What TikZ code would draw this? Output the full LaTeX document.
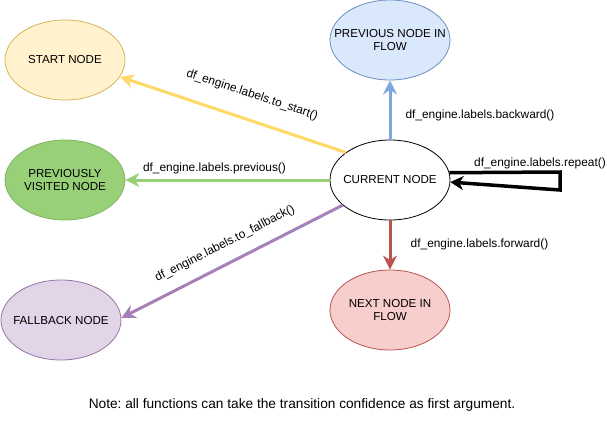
\documentclass[tikz,border=0pt]{standalone}
\usepackage{fontspec}
\setmainfont{Liberation Sans}
\usetikzlibrary{arrows.meta,shapes.geometric}
\frenchspacing
\definecolor{startfill}{HTML}{FFF2CC}
\definecolor{startdraw}{HTML}{D6B656}
\definecolor{blufill}{HTML}{DAE8FC}
\definecolor{bludraw}{HTML}{6C8EBF}
\definecolor{grnfill}{HTML}{97D077}
\definecolor{grndraw}{HTML}{82B366}
\definecolor{purfill}{HTML}{E1D5E7}
\definecolor{purdraw}{HTML}{9673A6}
\definecolor{redfill}{HTML}{F8CECC}
\definecolor{reddraw}{HTML}{B85450}
\definecolor{ylwline}{HTML}{FFD966}
\definecolor{grnline}{HTML}{97D077}
\definecolor{purline}{HTML}{A680B8}
\definecolor{bluline}{HTML}{7EA6E0}
\definecolor{redline}{HTML}{B85450}
\begin{document}
\begin{tikzpicture}[x=1pt,y=-1pt,
  statebox/.style={ellipse, minimum width=120pt, minimum height=80pt, inner sep=0pt,
    line width=0.8pt},
  statetxt/.style={align=center, font=\fontsize{11.6}{13.5}\selectfont, inner sep=0pt},
  lbl/.style={font=\fontsize{11.9}{13.5}\selectfont, inner sep=0pt},
  notelbl/.style={font=\fontsize{13.7}{16}\selectfont, inner sep=0pt},
  conn/.style={line width=3pt, -{Stealth[length=14pt,width=14pt,inset=4.5pt]}}
]
\useasboundingbox (0,0) rectangle (607,421);
\node[statebox, fill=startfill, draw=startdraw] (start) at (65,60) {};
\node[statebox, fill=blufill, draw=bludraw] (prevflow) at (390,40) {};
\node[statebox, fill=grnfill, draw=grndraw] (prevvis) at (65,180) {};
\node[statebox, fill=white, draw=black] (cur) at (390,180) {};
\node[statebox, fill=purfill, draw=purdraw] (fallback) at (61,320) {};
\node[statebox, fill=redfill, draw=reddraw] (next) at (390,310) {};
\node[statetxt] (starttxt) at (start) {START NODE};
\node[statetxt] (prevflowtxt) at (prevflow) {PREVIOUS NODE IN\\FLOW};
\node[statetxt] (prevvistxt) at (prevvis) {PREVIOUSLY\\VISITED NODE};
\node[statetxt] (curtxt) at (cur) {CURRENT NODE};
\node[statetxt] (fallbacktxt) at (fallback) {FALLBACK NODE};
\node[statetxt] (nexttxt) at (next) {NEXT NODE IN\\FLOW};

\draw[conn, ylwline] (cur.148) -- (start.-17.5);
\draw[conn, grnline] (cur.180) -- (prevvis.0);
\draw[conn, purline] (cur.208) -- (fallback.2);
\draw[conn, bluline] (cur.90) -- (prevflow.270);
\draw[conn, redline] (cur.270) -- (next.90);

\coordinate (r1) at (560,172);
\coordinate (r2) at (560,190);
\draw[line width=3.5pt, -{Stealth[length=13pt,width=14pt,inset=4pt]}, line join=miter]
  (cur.7.7) -- (r1) -- (r2) -- (cur.-2.8);

\node[lbl, rotate=-18.4] (lstart) at (252,95) {df\_engine.labels.to\_start()};
\node[lbl] (lprev) at (214.5,168) {df\_engine.labels.previous()};
\node[lbl, rotate=27] (lfall) at (225,244) {df\_engine.labels.to\_fallback()};
\node[lbl] (lback) at (480,115) {df\_engine.labels.backward()};
\node[lbl] (lfwd) at (479.5,244) {df\_engine.labels.forward()};
\node[lbl] (lrep) at (540,163) {df\_engine.labels.repeat()};
\node[notelbl] (note) at (302,405) {Note: all functions can take the transition confidence as first argument.};
\end{tikzpicture}
\end{document}
